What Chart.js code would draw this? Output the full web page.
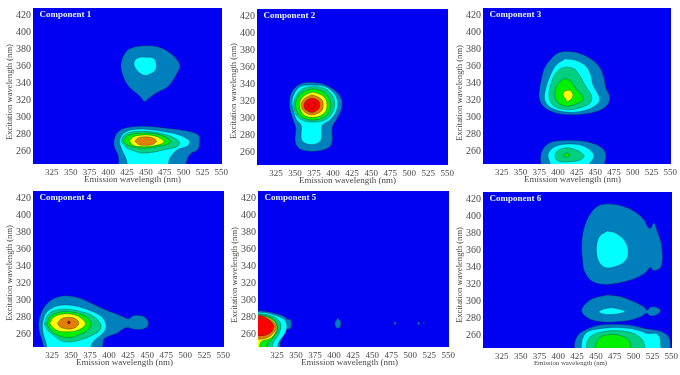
<!DOCTYPE html>
<html><head><meta charset="utf-8">
<style>
html,body{margin:0;padding:0;background:#fff;width:680px;height:375px;overflow:hidden}
canvas{position:absolute;filter:blur(0.45px)}
</style>
<script src="https://cdn.jsdelivr.net/npm/chart.js@4"></script>
</head><body>
<script>
const xTicks=[325,350,375,400,425,450,475,500,525,550];
const yTicks=[260,280,300,320,340,360,380,400,420];
const xTitle='Emission wavelength (nm)';
const yTitle='Excitation wavelength (nm)';
const levelColors=['#007fbd','#00ffff','#00d080','#00f000','#ffff00','#e08000','#ff0000','#b00000'];
// each contour: [level index, flat list of emission, excitation wavelengths]
const component1=[
[0,[446,384.5,464,383.7,482,376,495,362,490,350,479,336,464,329,453,322,448,318.7,442,325,426.5,337,418.5,352,417,364,424,378,435,383]],
[1,[450,371,460,370,464,362,462,355,455,351,449,349.5,442,352,436,358,434,364,437,369,443,371]],
[0,[414,238,413,255,408,265,408,275,413,283,425,288,450,289.5,480,287,505,284,520,279,521,270,519,262,508,256,503,245,502,238]],
[1,[426,238,424,250,418,262,415,272,420,281,432,285.5,450,286,475,283,495,279,508,272,505,266,492,262,482,252,476,238]],
[2,[417,272,421,279,432,283,450,283.5,470,281,487,276,495,270,490,265,475,262,460,259,445,258,432,261,423,265]],
[3,[420,272,425,278,436,281,452,281.5,470,279,483,272,478,268,462,265,448,263.5,433,265,424,268]],
[4,[428,272,433,277,443,279,456,279,468,276,474,271,468,268,456,266,443,265.5,433,267]],
[5,[435,272,440,276,450,277,460,275.5,464,272,460,268.5,450,267,440,268]]
];
const component2=[
[0,[372,342.5,385,341,397,336,408,328,412,319,410,308,404,298,399,290,399,275,397,268,388,263,372,261,358,263,352,268,350,275,351,288,348,297,344,308,342.5,318,345,330,352,338,362,342]],
[1,[372,339.5,388,338,400,331,406,320,404,308,396,298,386,292,385,282,384,274,378,270,372,269,365,270,359,274,358,282,358,292,352,298,348,308,346,320,350,331,358,338]],
[2,[374,338,389,335,399,327,402,316,398,305,389,298,374,295.5,359,298,351,305,348,316,352,327,360,335]],
[3,[373,335,386,332,394,325,397,316,394,306,385,300,373,298,361,300,353,307,350.5,316,354,326,362,332]],
[4,[373,331,384,328,390,323,392,316,390,308,383,303,373,301,363,303,358,308,356,316,358,323,364,328]],
[5,[372,328,381,325,386,321,387,315,385,309,380,306,372,304,365,306,360,310,358,316,360,321,365,325]],
[6,[372,324,379,322,382,319,382.5,315,381,311,378,309,372,307,366,309,363,311,361.5,315,363,319,366,322]],
[6,[372,319.5,375,318.5,376.5,315.5,375,312.5,372,311.5,369,312.5,367.5,315.5,369,318.5]]
];
const component3=[
[0,[410,378,425,376.5,442,370,455,360,461,348,464,335,469,325,467,316,458,309,440,304.5,420,303,398,305,383,311,376,320,375,330,378,345,382,358,392,370,400,376]],
[1,[410,369,425,367,438,360,444,350,447,338,455,325,455,318,445,311,430,307,415,306,400,308,388,313,382,322,384,335,390,350,398,362]],
[2,[412,359.5,422,357,430,348,436,338,445,325,443,317,432,312,415,309,400,311,391,317,388,328,391,340,397,352,405,358]],
[3,[411,346,418,342,424,334,433,325,433,320,425,316,412,313,402,316,397,322,396,330,399,338,405,344]],
[4,[412,332,417,331.5,420,327,419,323,415,319.5,412,319,410,322,407,326,408,330]],
[0,[378,238,377,255,382,265,392,271,410,273,430,272.5,448,269,460,263,464,255,462,245,460,238]],
[1,[393,238,388,250,387,257,393,264,405,268,420,268.5,435,266,446,259,448,253,442,245,440,238]],
[2,[396,256,400,261,410,264,420,263,430,259,435,254,430,250,420,248,405,247.5,398,250]],
[3,[408,256,411,258,415,257,415,254,411,253,408,254]]
];
const component4=[
[0,[316,238,312,252,308,265,308,277,314,291,325,301,341,305.5,360,303,378,296,395,289,410,284,420,280,425,278,432,282,444,281.5,451,276,451,270,444,266,432,266,424,268,418,266,410,261,400,258,393,254,391,245,380,238]],
[1,[320,238,317,250,313,262,313,275,318,286,330,293,345,294.5,362,292,378,287,390,281,396,272,395,265,388,258,380,252,376,245,375,238]],
[2,[315,272,319,282,328,288,345,289.5,362,287,378,282,389,272,387,264,378,259,365,254,350,251,338,252,328,258,319,265]],
[3,[318,272,322,280,332,285.5,347,286.5,362,284,372,279,376.5,272,372,265,362,260,348,256,335,258,325,263]],
[4,[322,273,327,280,337,283.5,348,284,358,282,366,277,369,272,364,267,356,264,345,263,333,264,326,268]],
[5,[332,273,337,278,345,280,353,279.5,359,276,360,272,356,268,348,266,340,267,335,269]],
[7,[345,274,347,276,349,274,347,272]]
];
const component5=[
[0,[292,288,310,287,325,284,335,281,338,278,343,277,343,267,338,266,335,262,331,255,329,248,328,238,292,238]],
[1,[292,286.5,312,285,327,281,335,277,338,270,335,260,328,252,322,238,292,238]],
[2,[292,285,312,283,322,280,329,274,330,268,326,258,320,250,317,238,292,238]],
[3,[292,284,310,282,320,278,325,271,325,264,319,255,312,248,310,238,292,238]],
[4,[292,284,310,281,320,276,324.5,270,323,262,316,255,304,251,300,238,292,238]],
[5,[292,283.5,308,281,318,276,323.5,270,321,262,312,256,300,254,292,254]],
[6,[292,283,306,281,316,276,320.5,270,318,263,310,259,300,258,292,258]],
[0,[405,279,408,276,409,273,408,269,405,267,402,269,401,273,402,276]],
[0,[480,275,481.5,273,480,271,478.5,273]],
[0,[511,275,512.5,273,511,271,509.5,273]],
[0,[518,275,519,274,518,273,517,274]]
];
const component6=[
[0,[465,415,482.5,413,501,406,514,396,518,389,522,386,527,392.5,531,384,537,366,537,342,527.5,336,522,340,517,335,509,330,491,324,465,320,446,323,435,335,432,350,431,366,434,386,443,404,454,413]],
[1,[465,383,475,381,485,375,491,367,493,358,491,350,484,344,472,340,462,340,455,345,451,355,451,367,455,377]],
[0,[465,307.5,480,306,497,301,513,294,518,289.5,522,293,530,293,536,289,530,284,522,283,517,286,510,282,490,277,465,275.5,445,278,434,284,431,289,434,295,445,303]],
[1,[460,291,470,292.5,480,291,489,288,480,285.5,468,284.5,458,285.5,454,288]],
[0,[422,238,422,252,428,262,440,268,455,272,475,273,495,272,515,268,530,266,542,262,548,255,549,245,549,238]],
[1,[431,238,431,252,437,263,450,267,470,269,495,268,513,264,518,262,530,262,535,257,536,248,536,238]],
[2,[438,238,438,252,445,260,458,264,475,265.5,495,263.5,508,258,514,250,514,238]],
[3,[450,238,450,250,456,258,470,261,485,259,494,254,496,247,495,238]]
];
const components=[component1,component2,component3,component4,component5,component6];
const names=['Component 1','Component 2','Component 3','Component 4','Component 5','Component 6'];
const FRAMES=[[33.3,8.3,222.7,164],[256.7,9.3,447.7,165],[483.3,8.3,671,164],[32.7,190.7,224,346.7],[257.7,190.7,449,346.7],[482.7,191.7,671.7,347.3]];
const X_TITLE_SHIFT=[5,-5,-4.6,-4,-4,-7];
const Y_TITLE_SHIFT=[6,4,7,4,6,5];
const X_TITLE_FONT=[9,9,9,9,9,6.8];
const PAD={l:34,t:8,r:11,b:27};
const toPoints=f=>{const p=[];for(let i=0;i<f.length;i+=2)p.push({x:f[i],y:f[i+1]});p.push({x:f[0],y:f[1]});return p;};
const panelPlugin={id:'panel',
 beforeDatasetsDraw(c){const a=c.chartArea,g=c.ctx;g.save();g.fillStyle='#0000f2';g.fillRect(a.left,a.top,a.width,a.height);g.restore();},
 afterDatasetsDraw(c){const a=c.chartArea,g=c.ctx,o=c.options.plugins.panel;g.save();
  g.fillStyle='#e8f4ff';g.font='bold 9px "Liberation Serif"';g.textBaseline='middle';g.textAlign='left';g.fillText(o.label,a.left+6.5,a.top+6.8);
  g.fillStyle='#4a4a4a';g.textAlign='center';
  g.font=o.xFont+'px "Liberation Serif"';g.fillText(xTitle,(a.left+a.right)/2+o.xShift,a.bottom+15.5);
  g.font='8.6px "Liberation Serif"';g.translate(a.left-23,(a.top+a.bottom)/2+o.yShift);g.rotate(-Math.PI/2);g.fillText(yTitle,0,0);
  g.restore();}
};
components.forEach((comp,i)=>{
 const fr=FRAMES[i];
 const cv=document.createElement('canvas');
 const w=Math.round(fr[2]-fr[0]+PAD.l+PAD.r),h=Math.round(fr[3]-fr[1]+PAD.t+PAD.b);
 cv.width=w;cv.height=h;cv.style.left=Math.round(fr[0]-PAD.l)+'px';cv.style.top=Math.round(fr[1]-PAD.t)+'px';cv.style.width=w+'px';cv.style.height=h+'px';
 document.body.appendChild(cv);
 new Chart(cv,{type:'scatter',plugins:[panelPlugin],
  data:{datasets:comp.map((c,k)=>({data:toPoints(c[1]),showLine:true,tension:0.35,capBezierPoints:false,pointRadius:0,fill:'shape',backgroundColor:levelColors[c[0]],borderColor:'rgba(0,30,70,0.55)',borderWidth:0.6,order:-k}))},
  options:{responsive:false,animation:false,events:[],
   layout:{padding:{left:0,top:PAD.t,right:PAD.r,bottom:0}},
   plugins:{legend:{display:false},tooltip:{enabled:false},panel:{label:names[i],xShift:X_TITLE_SHIFT[i],yShift:Y_TITLE_SHIFT[i],xFont:X_TITLE_FONT[i]}},
   scales:{
    x:{type:'linear',min:300,max:551,grid:{display:false,drawTicks:false},border:{display:false},
     afterBuildTicks:s=>{s.ticks=xTicks.map(v=>({value:v}));},
     afterFit:s=>{s.height=PAD.b;},
     ticks:{color:'#4a4a4a',font:{family:'"Liberation Serif"',size:9},padding:3,maxRotation:0,autoSkip:false,callback:v=>String(v)}},
    y:{type:'linear',min:245,max:429,grid:{display:false,drawTicks:false},border:{display:false},
     afterBuildTicks:s=>{s.ticks=yTicks.map(v=>({value:v}));},
     afterFit:s=>{s.width=PAD.l;},
     ticks:{color:'#4a4a4a',font:{family:'"Liberation Serif"',size:10},padding:2,autoSkip:false,callback:v=>String(v)}}
   }}});
});
</script>
</body></html>
